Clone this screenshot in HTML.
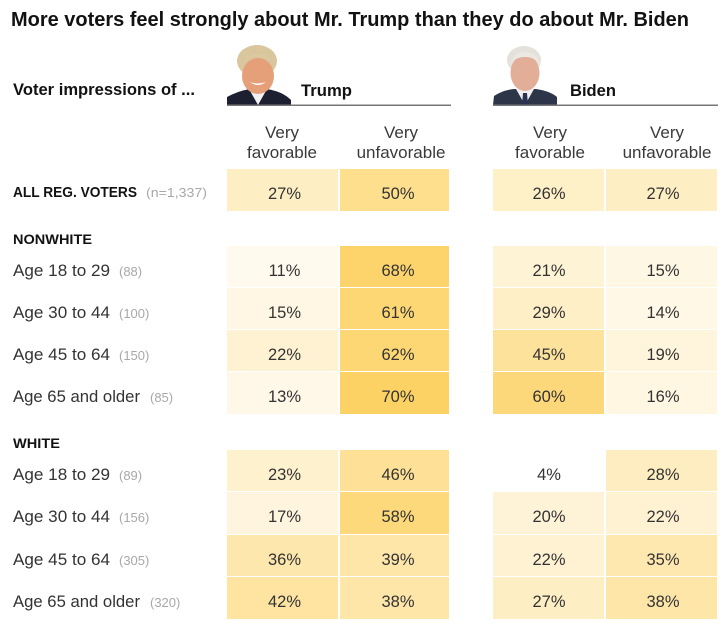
<!DOCTYPE html>
<html><head><meta charset="utf-8">
<style>
html,body{margin:0;padding:0;background:#fff;}
svg{display:block;}
text{font-family:"Liberation Sans",Arial,sans-serif;}
.b{font-weight:bold;fill:#121212;}
.h{fill:#3a3a3a;font-size:17px;text-anchor:middle;}
.p{fill:#333;font-size:16.5px;text-anchor:middle;}
.l{fill:#333;font-size:17px;}
.n{fill:#a8a8a8;font-size:13px;}
</style></head>
<body>
<svg width="722" height="632" viewBox="0 0 722 632" xmlns="http://www.w3.org/2000/svg">
<rect width="722" height="632" fill="#fff"/>
<text class="b" x="11" y="26" font-size="20" textLength="678" lengthAdjust="spacingAndGlyphs">More voters feel strongly about Mr. Trump than they do about Mr. Biden</text>

<!-- Trump photo -->
<g>
<ellipse cx="257" cy="61" rx="20" ry="16" fill="#d9c69c"/>
<path d="M227 105 L227 97 Q238 91 250 89 L266 89 Q282 91 291 100 L291 105 Z" fill="#1c2030"/>
<path d="M249 89 L258 105 L267 89 Z" fill="#f2f2f2"/>
<ellipse cx="258" cy="76" rx="16" ry="18" fill="#e5a07a"/>
<path d="M243 62 Q257 52 273 62 Q270 56 258 54 Q246 55 243 62 Z" fill="#dcc9a0"/>
<path d="M250 82 Q258 88 266 82 Q258 85 250 82 Z" fill="#fff"/>
</g>
<text class="b" x="301" y="96" font-size="17" textLength="51" lengthAdjust="spacingAndGlyphs">Trump</text>
<rect x="227" y="104.5" width="224" height="1.5" fill="#777"/>

<!-- Biden photo -->
<g>
<ellipse cx="524" cy="60" rx="17" ry="14" fill="#e4e0da"/>
<path d="M493 105 L494 96 Q503 90 514 89 L536 89 Q550 91 557 97 L557 105 Z" fill="#2d3648"/>
<path d="M516 89 L525 105 L534 89 Z" fill="#f0f0f0"/>
<path d="M523 93 L527 93 L528 105 L522 105 Z" fill="#2a3350"/>
<ellipse cx="525" cy="73" rx="14.5" ry="18" fill="#e2ae98"/>
<path d="M510 66 Q512 52 525 52 Q538 52 540 66 Q536 57 525 57 Q514 57 510 66 Z" fill="#ebe7e1"/>
</g>
<text class="b" x="570" y="96" font-size="17" textLength="46" lengthAdjust="spacingAndGlyphs">Biden</text>
<rect x="493" y="104.5" width="225" height="1.5" fill="#777"/>

<text class="b" x="13" y="95" font-size="17" textLength="182" lengthAdjust="spacingAndGlyphs">Voter impressions of ...</text>

<!-- column headers -->
<text class="h" x="282" y="138">Very</text>
<text class="h" x="282" y="158">favorable</text>
<text class="h" x="401" y="138">Very</text>
<text class="h" x="401" y="158">unfavorable</text>
<text class="h" x="550" y="138">Very</text>
<text class="h" x="550" y="158">favorable</text>
<text class="h" x="667" y="138">Very</text>
<text class="h" x="667" y="158">unfavorable</text>

<!-- ALL REG -->
<text class="b" x="13" y="197" font-size="15" textLength="124" lengthAdjust="spacingAndGlyphs">ALL REG. VOTERS</text>
<text class="n" x="146" y="197" textLength="61" lengthAdjust="spacingAndGlyphs">(n=1,337)</text>
<rect x="227" y="169" width="111" height="42" fill="#feeec3"/>
<rect x="340" y="169" width="109" height="42" fill="#fddf8e"/>
<rect x="493" y="169" width="111" height="42" fill="#fef0c7"/>
<rect x="606" y="169" width="111" height="42" fill="#feeec3"/>
<text class="p" x="284.5" y="199">27%</text>
<text class="p" x="398" y="199">50%</text>
<text class="p" x="549" y="199">26%</text>
<text class="p" x="663" y="199">27%</text>

<!-- NONWHITE -->
<text class="b" x="13" y="244" font-size="14" textLength="79" lengthAdjust="spacingAndGlyphs">NONWHITE</text>

<rect x="227" y="246" width="111" height="41" fill="#fffaed"/>
<rect x="340" y="246" width="109" height="41" fill="#fdd46c"/>
<rect x="493" y="246" width="111" height="41" fill="#fef3d5"/>
<rect x="606" y="246" width="111" height="41" fill="#fef7e3"/>
<text class="l" x="13" y="276" textLength="97" lengthAdjust="spacingAndGlyphs">Age 18 to 29</text>
<text class="n" x="119" y="276">(88)</text>
<text class="p" x="284.5" y="276">11%</text>
<text class="p" x="398" y="276">68%</text>
<text class="p" x="549" y="276">21%</text>
<text class="p" x="663" y="276">15%</text>

<rect x="227" y="288" width="111" height="41" fill="#fff7e3"/>
<rect x="340" y="288" width="109" height="41" fill="#fdd774"/>
<rect x="493" y="288" width="111" height="41" fill="#feefc6"/>
<rect x="606" y="288" width="111" height="41" fill="#fff8e6"/>
<text class="l" x="13" y="318" textLength="97" lengthAdjust="spacingAndGlyphs">Age 30 to 44</text>
<text class="n" x="119" y="318">(100)</text>
<text class="p" x="284.5" y="318">15%</text>
<text class="p" x="398" y="318">61%</text>
<text class="p" x="549" y="318">29%</text>
<text class="p" x="663" y="318">14%</text>

<rect x="227" y="330" width="111" height="41" fill="#fef2d2"/>
<rect x="340" y="330" width="109" height="41" fill="#fdd773"/>
<rect x="493" y="330" width="111" height="41" fill="#fde29c"/>
<rect x="606" y="330" width="111" height="41" fill="#fef5dc"/>
<text class="l" x="13" y="360" textLength="97" lengthAdjust="spacingAndGlyphs">Age 45 to 64</text>
<text class="n" x="119" y="360">(150)</text>
<text class="p" x="284.5" y="360">22%</text>
<text class="p" x="398" y="360">62%</text>
<text class="p" x="549" y="360">45%</text>
<text class="p" x="663" y="360">19%</text>

<rect x="227" y="372" width="111" height="42" fill="#fff8e9"/>
<rect x="340" y="372" width="109" height="42" fill="#fcd264"/>
<rect x="493" y="372" width="111" height="42" fill="#fdd87a"/>
<rect x="606" y="372" width="111" height="42" fill="#fff7e2"/>
<text class="l" x="13" y="402" textLength="127" lengthAdjust="spacingAndGlyphs">Age 65 and older</text>
<text class="n" x="150" y="402">(85)</text>
<text class="p" x="284.5" y="402">13%</text>
<text class="p" x="398" y="402">70%</text>
<text class="p" x="549" y="402">60%</text>
<text class="p" x="663" y="402">16%</text>

<!-- WHITE -->
<text class="b" x="13" y="448" font-size="14" textLength="47" lengthAdjust="spacingAndGlyphs">WHITE</text>

<rect x="227" y="450" width="111" height="41" fill="#fef1cd"/>
<rect x="340" y="450" width="109" height="41" fill="#fee197"/>
<rect x="606" y="450" width="111" height="41" fill="#feedc0"/>
<text class="l" x="13" y="480" textLength="97" lengthAdjust="spacingAndGlyphs">Age 18 to 29</text>
<text class="n" x="119" y="480">(89)</text>
<text class="p" x="284.5" y="480">23%</text>
<text class="p" x="398" y="480">46%</text>
<text class="p" x="549" y="480">4%</text>
<text class="p" x="663" y="480">28%</text>

<rect x="227" y="492" width="111" height="42" fill="#fff5de"/>
<rect x="340" y="492" width="109" height="42" fill="#fdd97c"/>
<rect x="493" y="492" width="111" height="42" fill="#fef3d6"/>
<rect x="606" y="492" width="111" height="42" fill="#fef2d2"/>
<text class="l" x="13" y="522" textLength="97" lengthAdjust="spacingAndGlyphs">Age 30 to 44</text>
<text class="n" x="119" y="522">(156)</text>
<text class="p" x="284.5" y="522">17%</text>
<text class="p" x="398" y="522">58%</text>
<text class="p" x="549" y="522">20%</text>
<text class="p" x="663" y="522">22%</text>

<rect x="227" y="535" width="111" height="41" fill="#fee7ac"/>
<rect x="340" y="535" width="109" height="41" fill="#fee6a9"/>
<rect x="493" y="535" width="111" height="41" fill="#fef2d2"/>
<rect x="606" y="535" width="111" height="41" fill="#fee8af"/>
<text class="l" x="13" y="565" textLength="97" lengthAdjust="spacingAndGlyphs">Age 45 to 64</text>
<text class="n" x="119" y="565">(305)</text>
<text class="p" x="284.5" y="565">36%</text>
<text class="p" x="398" y="565">39%</text>
<text class="p" x="549" y="565">22%</text>
<text class="p" x="663" y="565">35%</text>

<rect x="227" y="577" width="111" height="42" fill="#fee4a0"/>
<rect x="340" y="577" width="109" height="42" fill="#fee6a9"/>
<rect x="493" y="577" width="111" height="42" fill="#feeec3"/>
<rect x="606" y="577" width="111" height="42" fill="#fee6a9"/>
<text class="l" x="13" y="607" textLength="127" lengthAdjust="spacingAndGlyphs">Age 65 and older</text>
<text class="n" x="150" y="607">(320)</text>
<text class="p" x="284.5" y="607">42%</text>
<text class="p" x="398" y="607">38%</text>
<text class="p" x="549" y="607">27%</text>
<text class="p" x="663" y="607">38%</text>
</svg>
</body></html>
